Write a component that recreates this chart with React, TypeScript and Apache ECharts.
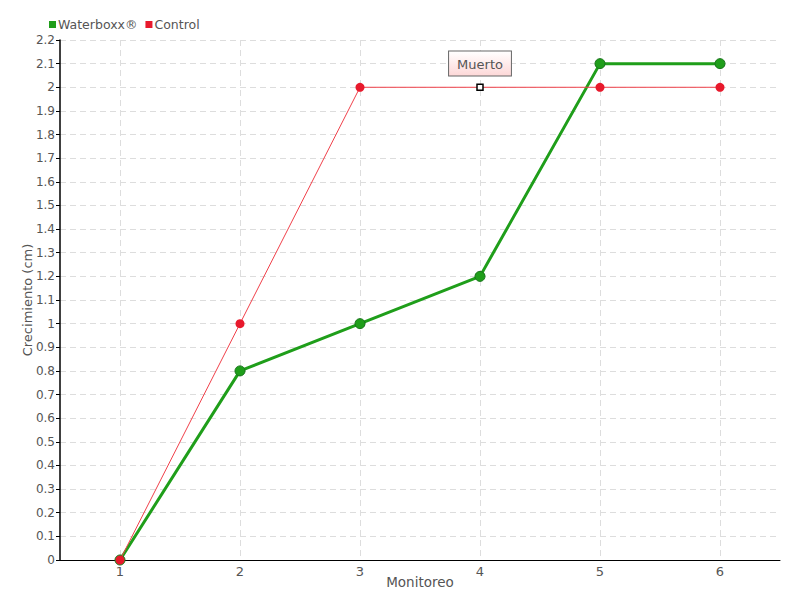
import React, { useEffect, useRef } from "react";
import * as echarts from "echarts";

const categories = ["1", "2", "3", "4", "5", "6"];
const waterboxx = [0, 0.8, 1.0, 1.2, 2.1, 2.1];
const control = [0, 1.0, 2.0, 2.0, 2.0, 2.0];
const deadIndex = 3;
const deadLabel = "Muerto";

const FONT = "'DejaVu Sans', sans-serif";

export default function App() {
  const ref = useRef<HTMLDivElement>(null);
  useEffect(() => {
    if (!ref.current) return;
    const chart = echarts.init(ref.current, null, { renderer: "svg" });
    const controlData = control.map((v, i) =>
      i === deadIndex
        ? {
            value: v,
            symbol: "rect",
            symbolSize: 6,
            itemStyle: { color: "#ffffff", borderColor: "#000000", borderWidth: 1.5 },
            label: {
              show: true,
              position: "top",
              distance: 8,
              formatter: deadLabel,
              color: "#555555",
              fontSize: 13,
              fontFamily: FONT,
              padding: [6, 8, 5, 8],
              borderColor: "#666666",
              borderWidth: 1,
              backgroundColor: new echarts.graphic.LinearGradient(0, 0, 0, 1, [
                { offset: 0, color: "#ffffff" },
                { offset: 1, color: "#fdd8d8" },
              ]),
            },
          }
        : v
    );
    chart.setOption({
      animation: false,
      textStyle: { fontFamily: FONT },
      legend: {
        left: 44,
        top: 13,
        itemWidth: 7,
        itemHeight: 7,
        itemGap: 8,
        icon: "rect",
        itemStyle: { borderWidth: 0 },
        textStyle: { color: "#555555", fontSize: 12.5, fontFamily: FONT, padding: [0, 0, 0, -3] },
        data: ["Waterboxx®", "Control"],
      },
      grid: { left: 60, right: 20, top: 40, bottom: 40 },
      xAxis: {
        type: "category",
        data: categories,
        boundaryGap: true,
        name: "Monitoreo",
        nameLocation: "middle",
        nameGap: 15,
        nameMoveOverlap: false,
        nameTextStyle: { color: "#555555", fontSize: 13.5, fontFamily: FONT },
        axisLine: { lineStyle: { color: "#000000", width: 1 } },
        axisTick: { alignWithLabel: true, length: 4, lineStyle: { color: "#000000" } },
        axisLabel: { color: "#555555", fontSize: 13, fontFamily: FONT, margin: 5 },
        splitLine: {
          show: true,
          alignWithLabel: true,
          lineStyle: { color: "#dddddd", type: [6, 4] },
        },
      },
      yAxis: {
        type: "value",
        min: 0,
        max: 2.2,
        interval: 0.1,
        name: "Crecimiento (cm)",
        nameLocation: "middle",
        nameGap: 26,
        nameMoveOverlap: false,
        nameTextStyle: { color: "#555555", fontSize: 13, fontFamily: FONT },
        axisLine: { show: true, lineStyle: { color: "#000000", width: 1.5 } },
        axisTick: { show: true, length: 4, lineStyle: { color: "#000000" } },
        axisLabel: {
          color: "#555555",
          fontSize: 12,
          fontFamily: FONT,
          margin: 5,
          formatter: (v: number) => String(Math.round(v * 10) / 10),
        },
        splitLine: { show: true, lineStyle: { color: "#dddddd", type: [6, 4] } },
      },
      series: [
        {
          name: "Waterboxx®",
          type: "line",
          data: waterboxx,
          color: "#1f9e1a",
          symbol: "circle",
          symbolSize: 10,
          lineStyle: { width: 3, color: "#1f9e1a" },
          itemStyle: { color: "#1f9e1a", borderColor: "#17731a", borderWidth: 1 },
          z: 2,
        },
        {
          name: "Control",
          type: "line",
          data: controlData,
          color: "#e8192c",
          symbol: "circle",
          symbolSize: 9,
          lineStyle: { width: 1, color: "#f0404a" },
          itemStyle: { color: "#e8192c" },
          z: 3,
        },
      ],
    });
    return () => chart.dispose();
  }, []);
  return <div ref={ref} style={{ width: 800, height: 600, position: "absolute", left: 0, top: 0 }} />;
}
